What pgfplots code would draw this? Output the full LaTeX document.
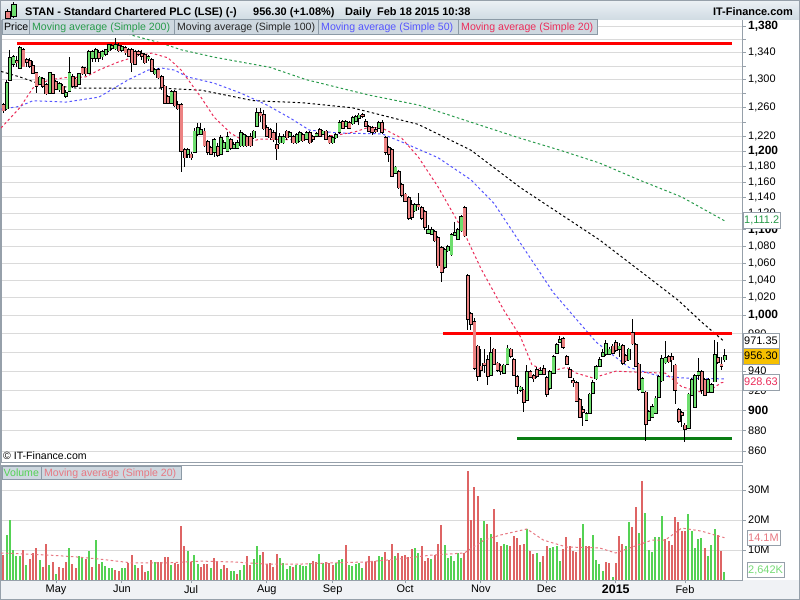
\documentclass[border=0pt]{standalone}
\usepackage{pgfplots}
\pgfplotsset{compat=1.18}
\usepackage{pgfplotstable}
\usepackage{fontspec}
\setmainfont{Liberation Sans}

\definecolor{upfill}{RGB}{110,222,110}
\definecolor{dnfill}{RGB}{236,130,130}
\definecolor{volup}{RGB}{84,210,84}
\definecolor{voldn}{RGB}{222,100,100}
\definecolor{matwenty}{RGB}{235,45,90}
\definecolor{mafifty}{RGB}{85,85,255}
\definecolor{matwohundred}{RGB}{40,155,75}
\definecolor{volma}{RGB}{232,120,130}
\definecolor{gridc}{RGB}{218,218,218}
\definecolor{framec}{RGB}{150,160,170}
\definecolor{legbg}{RGB}{206,216,224}
\definecolor{legframe}{RGB}{140,154,166}
\definecolor{headtop}{RGB}{236,241,245}
\definecolor{headbot}{RGB}{208,219,227}
\definecolor{gold}{RGB}{246,192,0}
\definecolor{supgreen}{RGB}{10,125,20}
\definecolor{stripc}{RGB}{240,242,245}

\newcommand\px[1]{\fontsize{#1}{#1}\selectfont}
\pgfdeclareplotmark{nothing}{}
% bp per unit of ln(price) on the price axis: 442.5bp / (ln 1390 - ln 849.7)
\def\lnunit{899.07}

% i = trading day (0 = 1 May 2014), o h l c in pence, v in millions, g = 1 for a green volume bar
\pgfplotstableread{
i o h l c v g
-16 1264 1267 1253 1257 8.3 0
-15 1260 1300 1257 1295 15.0 1
-14 1301 1344 1300 1332 20.0 1
-13 1324 1336 1318 1333 10.0 1
-12 1327 1335 1318 1326 8.0 1
-11 1318 1350 1316 1347 8.0 1
-10 1344 1347 1318 1320 10.0 0
-9 1329 1332 1318 1327 5.0 1
-8 1327 1332 1317 1321 7.0 0
-7 1320 1327 1308 1311 8.9 0
-6 1310 1311 1281 1292 10.6 0
-5 1295 1305 1292 1303 6.7 1
-4 1301 1304 1288 1292 4.4 0
-3 1292 1295 1278 1281 12.0 0
-2 1282 1311 1280 1310 5.0 1
-1 1307 1308 1280 1282 6.1 0
0 1297 1300 1285 1288 2.0 1
1 1287 1297 1282 1294 4.4 0
2 1290 1294 1281 1282 4.1 0
3 1278 1285 1274 1281 5.9 0
4 1285 1333 1282 1310 10.8 1
5 1304 1308 1288 1292 5.3 0
6 1300 1303 1290 1292 4.1 0
7 1295 1310 1292 1308 8.0 1
8 1317 1320 1307 1310 7.2 1
9 1316 1318 1305 1310 7.0 0
10 1311 1344 1308 1341 9.7 1
11 1333 1344 1326 1341 4.4 0
12 1333 1347 1326 1344 13.3 1
13 1339 1344 1326 1333 5.3 0
14 1335 1344 1329 1341 6.1 1
15 1339 1345 1335 1344 4.7 1
16 1344 1353 1341 1351 4.1 1
17 1348 1353 1344 1350 4.1 1
18 1347 1362 1344 1351 3.3 0
19 1350 1354 1341 1344 3.1 0
20 1345 1351 1341 1348 4.1 1
21 1347 1350 1336 1341 4.1 1
22 1344 1347 1333 1336 5.6 0
23 1344 1347 1311 1326 8.3 0
24 1341 1344 1323 1324 5.0 1
25 1341 1344 1335 1339 3.9 0
26 1338 1344 1329 1336 5.0 0
27 1336 1339 1323 1326 2.8 0
28 1332 1336 1327 1333 3.1 1
29 1329 1332 1311 1314 6.7 0
30 1310 1317 1307 1314 6.1 1
31 1314 1317 1301 1304 6.1 0
32 1304 1307 1285 1290 6.1 0
33 1290 1292 1265 1268 7.8 0
34 1275 1278 1265 1268 7.6 0
35 1268 1285 1265 1282 5.0 1
36 1282 1285 1261 1264 5.8 0
37 1264 1270 1257 1260 5.3 0
38 1264 1267 1173 1202 18.0 0
39 1202 1205 1180 1193 11.3 0
40 1198 1205 1192 1202 9.8 1
41 1196 1200 1189 1193 6.1 0
42 1200 1232 1198 1227 8.3 1
43 1225 1239 1221 1232 5.3 1
44 1225 1239 1222 1229 4.4 0
45 1227 1232 1206 1209 5.3 0
46 1213 1216 1196 1200 5.3 0
47 1205 1208 1196 1198 4.1 1
48 1200 1218 1193 1216 7.2 0
49 1206 1212 1193 1196 6.4 0
50 1198 1222 1196 1218 3.8 1
51 1206 1216 1204 1212 5.0 0
52 1202 1227 1200 1220 3.9 0
53 1216 1218 1202 1206 3.1 1
54 1206 1213 1204 1209 3.0 1
55 1206 1216 1204 1212 2.0 0
56 1209 1229 1206 1225 3.3 1
57 1209 1225 1206 1222 5.0 1
58 1220 1222 1206 1209 8.0 0
59 1220 1225 1206 1209 5.0 0
60 1220 1229 1217 1227 7.0 1
61 1236 1260 1233 1253 11.3 1
62 1253 1260 1240 1250 8.3 1
63 1250 1257 1229 1232 9.3 0
64 1232 1236 1220 1222 5.3 0
65 1229 1232 1216 1220 5.8 0
66 1225 1229 1213 1217 4.2 0
67 1209 1239 1189 1205 8.7 0
68 1213 1225 1210 1220 7.4 1
69 1213 1224 1210 1220 5.6 1
70 1227 1229 1216 1220 3.8 1
71 1222 1228 1220 1225 4.7 1
72 1220 1222 1210 1213 4.2 0
73 1213 1225 1210 1222 5.0 1
74 1216 1228 1213 1225 5.0 1
75 1222 1225 1213 1216 4.7 1
76 1218 1228 1216 1225 4.7 1
77 1225 1228 1210 1213 5.6 1
78 1220 1222 1213 1218 6.3 0
79 1222 1227 1220 1224 6.1 0
80 1229 1232 1220 1222 8.7 1
81 1225 1229 1222 1227 5.6 1
82 1227 1229 1216 1218 6.1 0
83 1220 1222 1210 1213 5.8 0
84 1213 1221 1210 1218 5.0 0
85 1220 1225 1217 1222 5.6 1
86 1227 1243 1224 1239 6.7 1
87 1240 1243 1231 1233 6.9 1
88 1236 1243 1233 1240 11.7 0
89 1239 1242 1231 1233 5.0 1
90 1239 1249 1236 1246 4.7 1
91 1243 1250 1240 1247 5.3 1
92 1247 1253 1236 1249 5.8 1
93 1250 1253 1246 1249 4.1 1
94 1240 1244 1233 1236 6.1 0
95 1233 1236 1227 1229 8.0 0
96 1232 1235 1222 1227 6.1 0
97 1229 1233 1225 1228 6.4 0
98 1233 1242 1232 1239 8.0 1
99 1239 1243 1224 1227 7.8 1
100 1218 1221 1196 1200 9.4 0
101 1205 1208 1186 1198 6.7 0
102 1202 1205 1167 1169 12.0 0
103 1173 1181 1171 1179 8.0 1
104 1173 1176 1151 1154 8.9 0
105 1156 1159 1141 1144 8.0 0
106 1144 1146 1135 1137 8.3 0
107 1140 1142 1112 1115 7.8 0
108 1131 1137 1112 1117 10.3 0
109 1125 1133 1122 1131 10.6 1
110 1131 1146 1125 1130 9.1 1
111 1127 1130 1112 1115 11.3 0
112 1122 1125 1100 1104 6.3 0
113 1097 1106 1096 1100 7.2 0
114 1096 1104 1094 1100 7.0 1
115 1097 1100 1085 1088 8.3 0
116 1090 1093 1054 1058 12.0 0
117 1078 1080 1038 1050 18.3 0
118 1056 1078 1053 1076 11.7 1
119 1076 1082 1073 1079 7.4 1
120 1071 1096 1069 1094 8.0 1
121 1095 1110 1093 1096 6.4 1
122 1090 1102 1088 1100 8.9 1
123 1100 1118 1097 1116 7.4 1
124 1127 1130 1091 1094 8.9 0
125 1045 1047 984 997 36.3 0
126 1002 1004 984 991 20.0 0
127 993 997 941 944 31.0 0
128 966 968 930 936 28.0 0
129 945 963 934 942 14.0 1
130 948 963 938 947 19.8 1
131 952 957 926 936 18.5 0
132 937 976 935 959 15.2 1
133 963 965 946 948 23.5 0
134 948 950 939 942 12.7 0
135 945 948 936 941 11.3 0
136 939 948 937 946 12.0 1
137 948 968 946 964 11.6 1
138 963 965 954 957 11.3 0
139 952 954 935 937 14.8 0
140 934 936 916 925 14.0 0
141 921 925 919 923 11.6 0
142 920 922 898 909 12.0 0
143 911 946 909 939 16.9 1
144 939 941 933 935 9.8 0
145 935 937 929 933 8.6 0
146 941 944 933 936 9.1 1
147 938 944 936 940 6.1 1
148 942 946 936 938 8.0 0
149 933 935 913 917 11.3 0
150 923 941 921 939 10.6 1
151 939 957 937 955 10.9 1
152 960 970 958 968 11.3 1
153 972 978 970 973 6.4 1
154 974 977 964 966 10.2 0
155 955 957 946 948 14.2 0
156 941 944 933 935 11.3 0
157 930 933 924 929 9.8 0
158 928 930 908 910 9.4 0
159 910 912 892 894 13.9 0
160 900 904 884 899 18.7 1
161 891 898 889 896 11.3 0
162 898 918 896 916 11.3 0
163 918 931 916 928 15.0 1
164 933 946 931 944 6.7 1
165 946 955 944 952 5.2 1
166 957 963 955 959 3.1 1
167 959 973 956 969 6.1 0
168 959 966 957 963 5.8 0
169 966 969 958 960 1.1 1
170 970 973 960 963 5.8 0
171 964 970 955 966 14.7 0
172 967 969 947 949 11.9 0
173 956 958 950 952 11.3 1
174 953 965 951 963 19.4 1
175 981 996 968 970 17.8 0
176 968 970 944 946 24.4 0
177 947 949 920 922 15.8 1
178 919 934 917 932 33.1 0
179 918 920 870 887 22.4 1
180 891 900 889 898 10.0 1
181 894 906 892 903 9.4 1
182 898 914 896 912 14.4 1
183 914 936 912 934 14.2 1
184 931 957 929 953 21.3 1
185 950 972 948 954 13.6 0
186 955 957 949 951 13.1 0
187 955 959 939 953 11.7 0
188 946 948 906 921 21.1 0
189 900 902 887 890 19.4 0
190 897 899 883 896 16.4 0
191 885 887 869 882 16.4 0
192 883 918 881 916 22.0 1
193 916 933 914 931 16.4 1
194 904 937 902 935 10.6 1
195 937 954 931 939 13.6 1
196 939 941 916 921 14.1 1
197 931 933 914 916 10.8 0
198 919 933 917 931 8.0 1
199 919 928 917 926 11.8 1
200 930 973 929 957 16.9 1
201 954 971 948 950 14.9 0
202 947 955 941 946 9.8 0
203 953 963 950 956.3 2.6 1
}\stan

\pgfplotsset{
  panel/.style={
    scale only axis, anchor=south west,
    xmin=-16.7, xmax=208.32,
    axis line style={framec},
    tick style={framec, line width=0.8bp},
    tick align=outside,
    major tick length=3.5bp,
    ymajorgrids,
    major grid style={gridc, line width=0.8bp},
    ytick pos=right, yticklabel pos=right,
    yticklabel style={anchor=west, inner sep=0pt, xshift=2.5bp, font=\px{11}},
  },
  ma/.style={#1, line width=1bp, dash pattern=on 2.5bp off 2.5bp, mark=none},
}

\begin{document}
\begin{tikzpicture}
\begin{scope}[x=1bp,y=1bp]
\useasboundingbox (0,0) rectangle (800,600);
\fill[white] (0,0) rectangle (800,600);
\fill[stripc] (0,0) rectangle (800,20);
\end{scope}

% price panel: prices are plotted on a logarithmic scale (ln of the price)
\begin{axis}[panel, at={(1bp,138bp)}, width=741bp, height=442.5bp,
  y filter/.expression={ln(y)},
  ymin=6.744883, ymax=7.237059,
  xtick=\empty,
  ytick={6.756932,6.779922,6.802395,6.824374,6.845880,6.866933,6.887553,6.907755,6.927558,6.946976,6.966024,6.984716,7.003065,7.021084,7.038784,7.056175,7.073270,7.090077,7.106606,7.122867,7.138867,7.154615,7.170120,7.185387,7.200425,7.215240,7.229839},
  yticklabels={860,880,\textbf{\px{12}900},920,940,960,980,\textbf{\px{12}1,000},{1,020},{1,040},{1,060},{1,080},\textbf{\px{12}1,100},{1,120},{1,140},{1,160},{1,180},\textbf{\px{12}1,200},{1,220},,{1,260},,{1,300},,{1,340},,\textbf{\px{12}1,380}},
]
% moving averages
\addplot[ma=matwohundred] coordinates {(1,1389) (13,1380) (23,1366) (32,1354) (38,1344) (48,1333) (65,1318) (76,1300) (95,1278) (110,1264) (126,1240) (141,1218) (153,1202) (165,1185) (177,1163) (190,1141) (203,1111.2)};
\addplot[ma=black] coordinates {(-16.7,1312) (-11,1304) (-5,1294) (6,1288) (31,1288) (44,1285) (60,1270) (75,1267) (90,1260) (110,1237) (126,1202) (141,1153) (153,1120) (165,1088) (177,1052) (189,1017) (196,993) (203,971.35)};
\addplot[ma=mafifty] coordinates {(-16.7,1258) (-11,1262) (-7,1270) (3,1268) (13,1275) (22,1300) (28,1314) (32,1317) (36,1314) (40,1304) (48,1295) (56,1281) (64,1264) (71,1246) (77,1229) (86,1225) (99,1224) (105,1213) (116,1192) (126,1163) (133,1133) (141,1084) (151,1026) (164,971) (168,960) (174,944) (182,936) (190,933) (203,932)};
\addplot[ma=matwenty] coordinates {(-16.7,1232) (-11,1260) (-7,1288) (-2,1300) (3,1303) (9,1304) (13,1314) (19,1326) (25,1335) (29,1339) (34,1332) (38,1314) (44,1275) (48,1247) (53,1225) (58,1212) (62,1217) (71,1216) (78,1220) (85,1222) (91,1227) (95,1233) (99,1232) (105,1218) (110,1193) (116,1154) (124,1096) (129,1054) (136,1006) (141,977) (144.5,947) (149,939) (155,944) (158,938) (163,933) (166,936) (170,940) (177,939) (185,938) (190,924) (195,919) (198,919) (202,928) (203,928.63)};
% candles: wick from high down to low
\addplot[scatter, only marks, mark=nothing, forget plot,
  visualization depends on={\lnunit*ln(\thisrow{h}/\thisrow{l}) \as \wlen},
  scatter/@pre marker code/.code={%
    \pgfmathsetmacro\wl{\wlen}%
    \draw[black, line width=1bp] (0bp,0bp) -- (0bp,-\wl bp);},
  scatter/@post marker code/.code={}]
  table[x=i, y=h] {\stan};
% candles: body from max(open,close) down to min(open,close)
\addplot[scatter, only marks, mark=nothing, forget plot,
  visualization depends on={\lnunit*abs(ln(\thisrow{o}/\thisrow{c})) \as \blen},
  visualization depends on={\thisrow{c}-\thisrow{o} \as \chg},
  scatter/@pre marker code/.code={%
    \pgfmathsetmacro\bl{\blen}%
    \pgfmathparse{\chg>0 ? 1 : 0}%
    \ifdim\pgfmathresult pt>0.5pt \def\bodycol{upfill}\else\def\bodycol{dnfill}\fi
    \fill[black] (-1.45bp,0.7bp) rectangle (1.45bp,-\bl bp-0.7bp);
    \fill[\bodycol] (-0.65bp,0bp) rectangle (0.65bp,-\bl bp);},
  scatter/@post marker code/.code={}]
  table[x=i, y expr={max(\thisrow{o},\thisrow{c})}] {\stan};
% drawn resistance and support
\addplot[red, line width=3bp] coordinates {(-11.75,1353) (205.3,1353)};
\addplot[red, line width=3bp] coordinates {(117.5,980.7) (205.3,980.7)};
\addplot[supgreen, line width=3bp] coordinates {(140,872.6) (205.3,872.6)};
\end{axis}

% volume panel
\begin{axis}[panel, at={(1bp,20bp)}, width=741bp, height=115bp,
  ymin=0, ymax=38.33,
  ytick={10,20,30}, yticklabels={10M,20M,30M},
  xtick pos=left,
  xtick={0,20,41,64,84,106,129,149,170,191},
  xticklabels={May,Jun,Jul,Aug,Sep,Oct,Nov,Dec,\textbf{\px{12.5}2015},Feb},
  xticklabel style={font=\px{11}, inner sep=1.5bp},
]
\addplot[ycomb, voldn, line width=2bp, mark=none] table[x=i, y expr={\thisrow{v}*(1-\thisrow{g})}] {\stan};
\addplot[ycomb, volup, line width=2bp, mark=none] table[x=i, y expr={\thisrow{v}*\thisrow{g}}] {\stan};
\addplot[ma=volma] coordinates {(-16.7,9.0) (-2,8.3) (6,7.7) (13,7.0) (23,5.7) (34,5.7) (44,6.3) (54,6.0) (64,5.3) (74,5.3) (84,5.7) (94,6.0) (104,7.0) (114,8.3) (124,9.0) (130,13.3) (135,15.0) (143,17.0) (148,13.3) (155,11.0) (165,10.7) (170,9.0) (175,11.0) (181,13.3) (185,13.3) (190,17.3) (196,16.3) (200,15.0) (203,14.1)};
\end{axis}

\begin{scope}[x=1bp,y=1bp]
% header
\shade[top color=headtop, bottom color=headbot] (0,580.5) rectangle (800,600);
\draw[black, fill=dnfill, line width=0.6bp] (5,582) rectangle (10,589);
\draw[black, line width=0.6bp] (7.5,581) -- (7.5,582) (7.5,589) -- (7.5,591);
\draw[black, fill=upfill, line width=0.6bp] (11,584) rectangle (16,596);
\draw[black, line width=0.6bp] (13.5,582) -- (13.5,584) (13.5,596) -- (13.5,598);
\node[anchor=base west, inner sep=0pt, font=\bfseries\px{11}] at (25,584) {STAN - Standard Chartered PLC (LSE) (-)};
\node[anchor=base west, inner sep=0pt, font=\bfseries\px{11}] at (253,584) {956.30 (+1.08\%)};
\node[anchor=base west, inner sep=0pt, font=\bfseries\px{11}] at (345,584) {Daily};
\node[anchor=base west, inner sep=0pt, font=\bfseries\px{11}] at (377,584) {Feb 18 2015 10:38};
\node[anchor=base east, inner sep=0pt, font=\bfseries\px{11}] at (793,584) {IT-Finance.com};

% legend row of the price panel
\foreach \a/\b in {2/29, 29/174, 174/318, 318/458, 458/597}
  \draw[legframe, fill=legbg, line width=0.8bp] (\a,566) rectangle (\b,580.5);
\node[anchor=base west, inner sep=0pt, font=\px{10.6}] at (4,569.6) {Price};
\node[anchor=base west, inner sep=0pt, font=\px{10.6}, text=matwohundred] at (32,569.6) {Moving average (Simple 200)};
\node[anchor=base west, inner sep=0pt, font=\px{10.6}, text=black!85] at (177,569.6) {Moving average (Simple 100)};
\node[anchor=base west, inner sep=0pt, font=\px{10.6}, text=mafifty] at (321,569.6) {Moving average (Simple 50)};
\node[anchor=base west, inner sep=0pt, font=\px{10.6}, text=matwenty] at (461,569.6) {Moving average (Simple 20)};

\node[anchor=base west, inner sep=0pt, font=\px{10.6}] at (3,140.5) {\textcopyright\ IT-Finance.com};

% legend row of the volume panel
\draw[legframe, fill=legbg, line width=0.8bp] (2,120.5) rectangle (41,134);
\draw[legframe, fill=legbg, line width=0.8bp] (41,120.5) rectangle (181,134);
\node[anchor=base west, inner sep=0pt, font=\px{10.6}, text=volup] at (3.5,123.5) {Volume};
\node[anchor=base west, inner sep=0pt, font=\px{10.6}, text=volma] at (44,123.5) {Moving average (Simple 20)};

% last-value boxes
\node[draw=framec, fill=white, anchor=west, inner sep=1.5bp, minimum height=16bp, text=matwohundred, font=\px{11}] at (742.5,379.3) {1,111.2};
\node[draw=framec, fill=white, anchor=west, inner sep=1.5bp, minimum height=16bp, font=\px{11}] at (742.5,259) {971.35};
\node[draw=framec, fill=gold, anchor=west, inner sep=1.5bp, minimum height=16bp, font=\px{11}] at (742.5,244.2) {956.30};
\node[draw=framec, fill=white, anchor=west, inner sep=1.5bp, minimum height=16bp, text=matwenty, font=\px{11}] at (742.5,218) {928.63};
\node[draw=framec, fill=white, anchor=west, inner sep=1.5bp, minimum height=15bp, text=volma, font=\px{11}] at (746.5,62) {14.1M};
\node[draw=framec, fill=white, anchor=west, inner sep=1.5bp, minimum height=15bp, text=volup!80, font=\px{11}] at (746.5,30) {2,642K};

\draw[framec, line width=1bp] (0.5,0.5) rectangle (799.5,599.5);
\end{scope}
\end{tikzpicture}
\end{document}
